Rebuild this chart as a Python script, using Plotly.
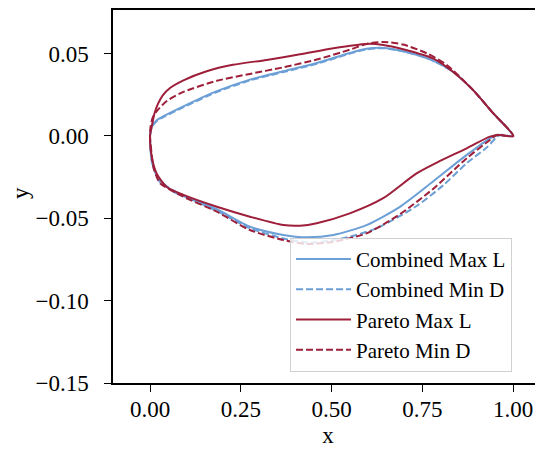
import plotly.graph_objects as go

# ---- data ----
# Combined Max L
cml_xu = [0, 0.0047, 0.02, 0.037, 0.092, 0.184, 0.275, 0.367, 0.459, 0.550, 0.596, 0.642, 0.697, 0.771, 0.834, 0.889, 0.944, 1.0]
cml_yu = [0, 0.0057, 0.0098, 0.0120, 0.0180, 0.0272, 0.0342, 0.0393, 0.0443, 0.0504, 0.0529, 0.0535, 0.0515, 0.0465, 0.0390, 0.028, 0.014, 0.0]
cml_xl = [0, 0.0047, 0.018, 0.0275, 0.064, 0.110, 0.184, 0.275, 0.367, 0.431, 0.505, 0.596, 0.688, 0.780, 0.872, 0.936, 0.958, 1.0]
cml_yl = [0, -0.0146, -0.0237, -0.0267, -0.0338, -0.0379, -0.0445, -0.0551, -0.0601, -0.0615, -0.0601, -0.0541, -0.0430, -0.0275, -0.0115, -0.0014, 0.0006, 0.0]

# Combined Min D
cmd_xu = [0, 0.0047, 0.02, 0.037, 0.092, 0.184, 0.275, 0.367, 0.459, 0.550, 0.596, 0.642, 0.697, 0.771, 0.834, 0.889, 0.944, 1.0]
cmd_yu = [0, 0.0054, 0.0094, 0.0115, 0.0175, 0.0267, 0.0337, 0.0388, 0.0438, 0.0500, 0.0526, 0.0533, 0.0514, 0.0465, 0.0390, 0.028, 0.014, 0.0]
cmd_xl = [0, 0.0055, 0.018, 0.0275, 0.092, 0.184, 0.275, 0.367, 0.440, 0.532, 0.624, 0.734, 0.807, 0.872, 0.927, 0.963, 1.0]
cmd_yl = [0, -0.0164, -0.0240, -0.0280, -0.0362, -0.0455, -0.0560, -0.0622, -0.0648, -0.0621, -0.0560, -0.0425, -0.0300, -0.0165, -0.0070, 0.0006, 0.0]

# Pareto Max L
pml_xu = [0, 0.0047, 0.012, 0.022, 0.035, 0.055, 0.092, 0.156, 0.228, 0.321, 0.413, 0.505, 0.596, 0.642, 0.697, 0.780, 0.834, 0.889, 0.944, 1.0]
pml_yu = [0, 0.0057, 0.0135, 0.0196, 0.0247, 0.0291, 0.0338, 0.0393, 0.0432, 0.0462, 0.0496, 0.0533, 0.0559, 0.0553, 0.0527, 0.0470, 0.0390, 0.028, 0.014, 0.0]
pml_xl = [0, 0.0047, 0.018, 0.046, 0.092, 0.184, 0.275, 0.367, 0.413, 0.459, 0.550, 0.642, 0.734, 0.800, 0.872, 0.936, 0.963, 1.0]
pml_yl = [0, -0.0126, -0.0227, -0.0310, -0.0358, -0.0430, -0.0490, -0.0541, -0.0545, -0.0530, -0.0470, -0.0378, -0.0227, -0.0150, -0.0075, -0.0004, 0.0006, 0.0]

# Pareto Min D
pmd_xu = [0, 0.0014, 0.007, 0.018, 0.046, 0.092, 0.184, 0.275, 0.367, 0.459, 0.550, 0.596, 0.642, 0.697, 0.762, 0.817, 0.889, 0.944, 1.0]
pmd_yu = [0, 0.0055, 0.0110, 0.0150, 0.0212, 0.0268, 0.0335, 0.0377, 0.0417, 0.0464, 0.0524, 0.0559, 0.0571, 0.0555, 0.0502, 0.0431, 0.028, 0.014, 0.0]
pmd_xl = [0, 0.009, 0.018, 0.0275, 0.092, 0.184, 0.275, 0.367, 0.431, 0.505, 0.596, 0.688, 0.780, 0.872, 0.936, 0.954, 1.0]
pmd_yl = [0, -0.0187, -0.0247, -0.0287, -0.0369, -0.0460, -0.0571, -0.0632, -0.0656, -0.0642, -0.0591, -0.0475, -0.0320, -0.0135, -0.0024, 0.0006, 0.0]

x_ticks = [0.0, 0.25, 0.5, 0.75, 1.0]
y_ticks = [-0.15, -0.10, -0.05, 0.0, 0.05]

BLUE = "#6b9fd6"
RED = "#9e1f3a"
FONT = "Liberation Serif"
FS = 23

series = [
    ("Combined Max L", cml_xu, cml_yu, cml_xl, cml_yl, BLUE, "solid"),
    ("Combined Min D", cmd_xu, cmd_yu, cmd_xl, cmd_yl, BLUE, "7px,3px"),
    ("Pareto Max L", pml_xu, pml_yu, pml_xl, pml_yl, RED, "solid"),
    ("Pareto Min D", pmd_xu, pmd_yu, pmd_xl, pmd_yl, RED, "7px,3px"),
]

fig = go.Figure()
for name, xu, yu, xl, yl, col, dash in series:
    xs = list(reversed(xu)) + xl[1:]
    ys = list(reversed(yu)) + yl[1:]
    fig.add_trace(go.Scatter(
        x=xs, y=ys, mode="lines", name=name,
        line=dict(color=col, width=2, dash=dash, shape="spline", smoothing=0.7),
    ))

axis_common = dict(
    showgrid=False, zeroline=False, showline=True, linecolor="black", linewidth=1.5,
    ticks="outside", ticklen=7, tickwidth=1.3, tickcolor="black",
    tickfont=dict(family=FONT, size=FS, color="black"),
    title_font=dict(family=FONT, size=FS, color="black"),
    automargin=False,
)

fig.update_xaxes(range=[-0.102, 1.082], tickvals=x_ticks, tickformat=".2f",
                 title_text="x", mirror=True, title_standoff=6,
                 ticklabelstandoff=-2, **axis_common)
fig.update_yaxes(range=[-0.15, 0.0765], tickvals=y_ticks, tickformat=".2f",
                 ticklabelstandoff=11, **axis_common)

# y axis title placed as a rotated label left of the tick labels
fig.add_annotation(
    text="y", xref="paper", yref="paper", x=(12 - 105) / 430, y=(375 - 185) / 373,
    xanchor="center", yanchor="middle", textangle=-90, showarrow=False,
    font=dict(family=FONT, size=FS, color="black"),
)

fig.update_layout(
    width=535, height=444,
    margin=dict(l=105, r=0, t=2, b=69),
    plot_bgcolor="white", paper_bgcolor="white",
    font=dict(family=FONT, size=FS, color="black"),
    legend=dict(
        x=(290 - 113) / 430, y=0.03, xanchor="left", yanchor="bottom",
        bgcolor="rgba(255,255,255,0.8)", bordercolor="#d0d0d0", borderwidth=1,
        font=dict(family=FONT, size=21, color="black"),
        tracegroupgap=0, itemwidth=55,
    ),
    showlegend=True,
)

fig.write_html("out.html")
